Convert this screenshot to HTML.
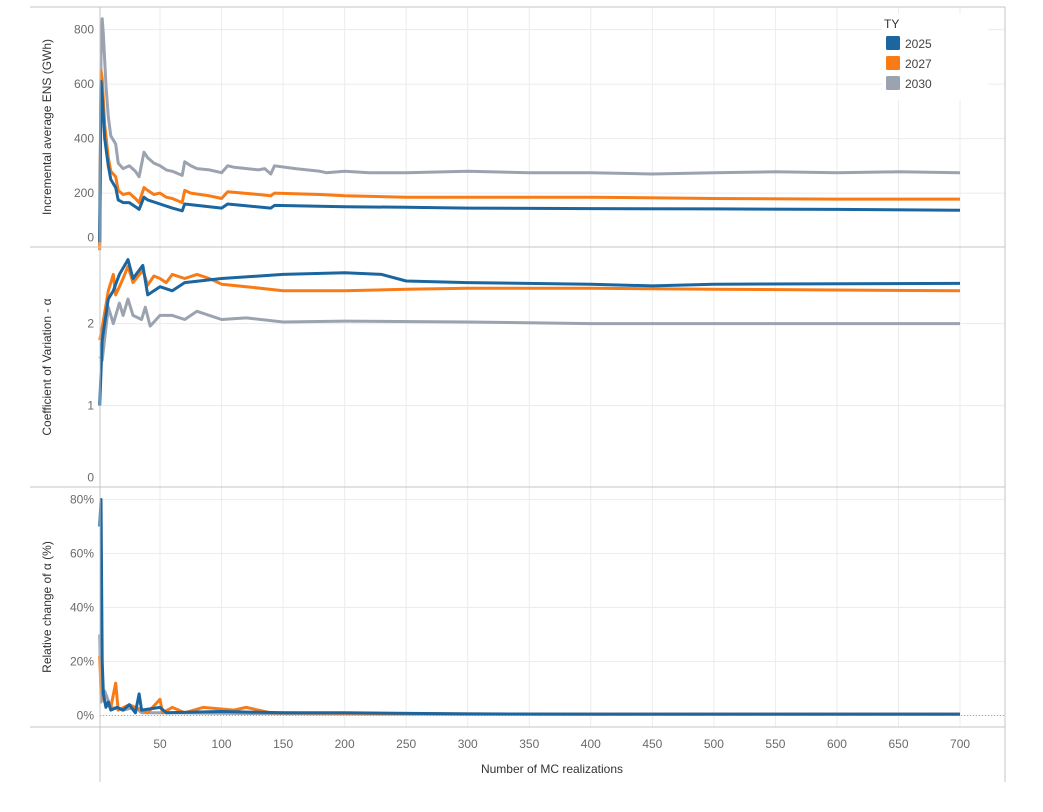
<!DOCTYPE html>
<html><head><meta charset="utf-8"><style>
body{margin:0;background:#fff;}
svg text{font-family:"Liberation Sans",sans-serif;}
</style></head><body>
<svg id="chart" width="1043" height="807" xmlns="http://www.w3.org/2000/svg"></svg>
<script>
const xTicks=[50,100,150,200,250,300,350,400,450,500,550,600,650,700];
const seriesNames=["2030","2027","2025"];
const seriesColors=["#9ba3b0","#f97b16","#1c66a0"];
// Panel 1: Incremental average ENS (GWh)
const ensN=[[1,2,3,4,6,8,10,14,16,20,25,30,33,37,40,45,50,55,60,68,70,75,80,90,100,105,110,130,135,140,143,160,180,185,200,220,250,300,350,400,450,500,550,600,650,700],
 [1,2,3,5,8,10,14,16,20,25,30,33,37,40,45,50,55,60,68,70,75,90,100,105,130,140,143,180,200,250,300,400,500,600,700],
 [1,2,3,5,8,10,14,16,20,25,30,33,37,40,50,60,68,70,80,100,105,140,143,200,250,300,400,500,600,700]];
const ensV=[[0,700,840,780,600,480,410,380,310,290,300,280,260,350,330,310,300,285,280,265,315,300,290,285,275,300,295,285,290,270,300,290,280,275,280,275,275,280,275,275,270,275,278,275,278,275],
 [-10,650,620,450,330,280,260,210,195,200,180,165,220,210,195,200,185,180,165,210,200,190,180,205,195,190,200,195,190,185,185,185,180,178,178],
 [20,610,560,400,300,250,220,175,165,165,150,140,185,175,160,145,135,160,155,145,160,145,155,150,148,145,143,142,140,137]];
const ensTicks=[0,200,400,600,800];
// Panel 2: Coefficient of variation
const cvN=[[1,3,8,12,17,20,24,28,35,38,42,50,60,70,80,100,120,150,200,300,400,700],
 [1,3,8,12,14,20,24,28,36,40,45,50,55,60,70,80,90,100,120,150,200,250,300,400,500,700],
 [1,3,8,12,17,24,28,36,40,50,60,70,100,150,200,230,250,300,400,450,500,700]];
const cvV=[[1.6,1.55,2.2,2.0,2.25,2.1,2.3,2.1,2.05,2.2,1.97,2.1,2.1,2.05,2.15,2.05,2.07,2.02,2.03,2.02,2.0,2.0],
 [1.8,1.95,2.4,2.6,2.35,2.55,2.7,2.5,2.65,2.47,2.58,2.55,2.5,2.6,2.55,2.6,2.55,2.48,2.45,2.4,2.4,2.42,2.43,2.43,2.42,2.4],
 [1.0,1.8,2.3,2.4,2.6,2.78,2.55,2.71,2.35,2.45,2.4,2.5,2.55,2.6,2.62,2.6,2.52,2.5,2.48,2.46,2.48,2.49]];
const cvTicks=[0,1,2];
// Panel 3: Relative change (%)
const rcN=[[1,2,5,10,20,30,35,60,100,200,300,400,500,600,700],
 [1,2,5,10,14,16,25,40,50,52,60,70,85,110,120,140,200,300,400,500,600,700],
 [1,2,3,4,6,8,10,15,20,25,30,33,35,50,55,100,150,200,300,400,500,600,700]];
const rcV=[[30,5,9,3,2,3,1,1,0.8,0.6,0.5,0.5,0.5,0.5,0.5],
 [22,10,5,3,12,2,4,1,6,1,3,1,3,2,3,1,0.8,0.6,0.5,0.5,0.5,0.5],
 [70,80,20,8,3,5,2,3,2,4,1,8,2,3,1,1.5,1,1,0.6,0.5,0.5,0.5,0.5]];
const rcTicks=[0,20,40,60,80];

const svg=document.getElementById('chart');
const NS="http://www.w3.org/2000/svg";
function mk(tag,attrs,parent){const e=document.createElementNS(NS,tag);for(const k in attrs)e.setAttribute(k,attrs[k]);(parent||svg).appendChild(e);return e;}
const X0=98.5,XS=800/650,XR=1005;
const xScale=n=>X0+n*XS;
const panels=[
 {name:"ens",top:7,zeroY:247.6,per:54.5/200,ticks:ensTicks,fmt:v=>String(v),title:"Incremental average ENS (GWh)",N:ensN,V:ensV,bottom:247},
 {name:"cv",top:247,zeroY:487.6,per:82,ticks:cvTicks,fmt:v=>String(v),title:"Coefficient of Variation - α",N:cvN,V:cvV,bottom:487},
 {name:"rc",top:487,zeroY:715.5,per:2.7,ticks:rcTicks,fmt:v=>v+"%",title:"Relative change of α (%)",N:rcN,V:rcV,bottom:727}
];
// grid verticals
xTicks.forEach(t=>{const l=mk('line',{x1:xScale(t),x2:xScale(t),y1:7,y2:727,stroke:"#ececec","stroke-width":1});
});
panels.forEach(p=>{
 const g=mk('g',{});
 const ys=v=>p.zeroY-v*p.per;
 p.ticks.forEach(t=>{
  const y=ys(t);
  if(t!==0||p.name==="rc"){const gl=mk('line',{x1:100,x2:XR,y1:y,y2:y,stroke:"#ececec"},g);}
  let ly=y+4; if(t===0&&p.name!=="rc") ly=y-6;
  const tx=mk('text',{x:94,y:ly,"text-anchor":"end","font-size":12,fill:"#6a6a6a"},g);tx.textContent=p.fmt(t);
  
 });
 if(p.name==="rc"){const zl=mk('line',{x1:100,x2:XR,y1:p.zeroY,y2:p.zeroY,stroke:"#aaa","stroke-dasharray":"1,2"},g);}
 const cy=(p.top+p.bottom)/2;
 const tt=mk('text',{x:0,y:0,transform:`translate(51,${cy}) rotate(-90)`,"text-anchor":"middle","font-size":12,fill:"#333"},g);tt.textContent=p.title;
 
 p.N.forEach((ns,i)=>{
  const d=ns.map((n,j)=>(j?'L':'M')+xScale(n).toFixed(1)+','+ys(p.V[i][j]).toFixed(1)).join(' ');
  const path=mk('path',{d:d,fill:"none",stroke:seriesColors[i],"stroke-width":3,"stroke-linejoin":"round"},g);
  
 });
});
// frame lines
[[30,7,XR,7],[30,247,XR,247],[30,487,XR,487],[30,727,XR,727],[100,7,100,782],[XR,7,XR,782]].forEach(a=>{
 const l=mk('line',{x1:a[0],y1:a[1],x2:a[2],y2:a[3],stroke:"#c4c4c4","stroke-width":1});
 });
xTicks.forEach(t=>{const tx=mk('text',{x:xScale(t),y:748,"text-anchor":"middle","font-size":12,fill:"#6a6a6a"});tx.textContent=t;
 });
const xt=mk('text',{x:552,y:773,"text-anchor":"middle","font-size":12,fill:"#333"});xt.textContent="Number of MC realizations";

// legend
const lg=mk('g',{});
mk('rect',{x:882,y:14,width:106,height:86,fill:"#fff"},lg);
const lt=mk('text',{x:884,y:28,"font-size":12,fill:"#333"},lg);lt.textContent="TY";

[2,1,0].forEach((si,k)=>{
 const e=mk('g',{},lg);
 mk('rect',{x:886,y:36+k*20,width:14,height:14,rx:1.5,fill:seriesColors[si]},e);
 const t=mk('text',{x:905,y:48+k*20,"font-size":12,fill:"#444"},e);t.textContent=seriesNames[si];
});
</script>
</body></html>
